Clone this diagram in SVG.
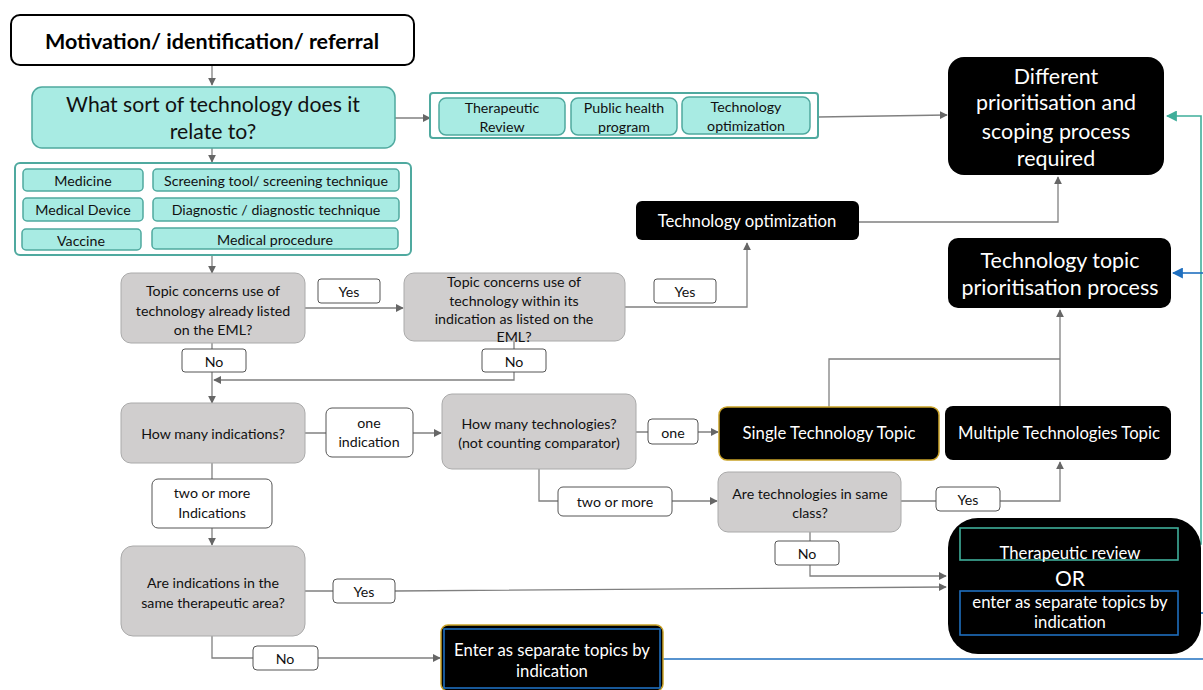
<svg xmlns="http://www.w3.org/2000/svg" width="1203" height="690" viewBox="0 0 1203 690">
<style>
text{font-family:Lato,"Open Sans","Liberation Sans",sans-serif;text-anchor:middle;dominant-baseline:central}
.teal{fill:#a8ebe3;stroke:#4fa99f;stroke-width:1.5}
.grp{fill:#fff;stroke:#4fa99f;stroke-width:2}
.gray{fill:#d0cece;stroke:#aaaaaa;stroke-width:1}
.lbl{fill:#fff;stroke:#555;stroke-width:1}
.blk{fill:#000}
.t13{font-size:14.2px;fill:#111}
.w{fill:#fff}
.w16{font-size:16.7px}
.w21{font-size:21.4px}
.con{fill:none;stroke:#808080;stroke-width:1.3}
</style>
<defs>
<marker id="ag" viewBox="0 0 10 10" refX="9" refY="5" markerWidth="8" markerHeight="8" markerUnits="userSpaceOnUse" orient="auto"><path d="M0,0 L10,5 L0,10 z" fill="#666"/></marker>
<marker id="at" viewBox="0 0 10 10" refX="9" refY="5" markerWidth="11" markerHeight="11" markerUnits="userSpaceOnUse" orient="auto"><path d="M0,0 L10,5 L0,10 z" fill="#3fae9a"/></marker>
<marker id="ab" viewBox="0 0 10 10" refX="9" refY="5" markerWidth="11" markerHeight="11" markerUnits="userSpaceOnUse" orient="auto"><path d="M0,0 L10,5 L0,10 z" fill="#1f6fbf"/></marker>
</defs>

<g id="connectors">
<path class="con" d="M212,65 V85" marker-end="url(#ag)"/>
<path class="con" d="M395,118 H430" marker-end="url(#ag)"/>
<path class="con" d="M818,117 L947,115" marker-end="url(#ag)"/>
<path class="con" d="M212,148 V162" marker-end="url(#ag)"/>
<path class="con" d="M212,255 V273" marker-end="url(#ag)"/>
<path class="con" d="M305,308 H403" marker-end="url(#ag)"/>
<path class="con" d="M625,307 H747 V243" marker-end="url(#ag)"/>
<path class="con" d="M859,222 H1058 V177" marker-end="url(#ag)"/>
<path class="con" d="M212,343 V403" marker-end="url(#ag)"/>
<path class="con" d="M514,341 V380 H214" marker-end="url(#ag)"/>
<path class="con" d="M305,433 H441" marker-end="url(#ag)"/>
<path class="con" d="M636,432 H718" marker-end="url(#ag)"/>
<path class="con" d="M829,407 V359 H1060"/>
<path class="con" d="M1060,406 V310" marker-end="url(#ag)"/>
<path class="con" d="M539,469 V501 H717" marker-end="url(#ag)"/>
<path class="con" d="M901,501 H1060 V462" marker-end="url(#ag)"/>
<path class="con" d="M810,532 V576 H946" marker-end="url(#ag)"/>
<path class="con" d="M212,463 V545" marker-end="url(#ag)"/>
<path class="con" d="M305,591 H395 L946,587" marker-end="url(#ag)"/>
<path class="con" d="M212,636 V658 H440" marker-end="url(#ag)"/>
<path d="M1178,544 H1201 V116 H1167" fill="none" stroke="#3fae9a" stroke-width="1.6" marker-end="url(#at)"/>
<path d="M1178,613 H1203" fill="none" stroke="#1f6fbf" stroke-width="1.6"/>
<path d="M1203,273 H1173" fill="none" stroke="#1f6fbf" stroke-width="1.6" marker-end="url(#ab)"/>
<path d="M663,659 H1203" fill="none" stroke="#1f6fbf" stroke-width="1.6"/>
</g>

<g id="n-motivation">
<rect x="11" y="15" width="403" height="50" rx="9" fill="#fff" stroke="#000" stroke-width="2"/>
<text x="212" y="41" style="font-size:21.5px;font-weight:bold;fill:#000">Motivation/ identification/ referral</text>
</g>

<g id="n-whatsort">
<rect class="teal" x="32" y="87" width="363" height="61" rx="10"/>
<text x="213" y="104" style="font-size:21.2px;fill:#111">What sort of technology does it</text>
<text x="213" y="131" style="font-size:21.2px;fill:#111">relate to?</text>
</g>

<g id="n-othertypes">
<rect class="grp" x="430" y="93" width="388" height="45" rx="3"/>
<rect class="teal" x="439" y="98" width="126" height="37" rx="7"/>
<text class="t13" x="502" y="107">Therapeutic</text>
<text class="t13" x="502" y="126">Review</text>
<rect class="teal" x="571" y="98" width="106" height="37" rx="7"/>
<text class="t13" x="624" y="107">Public health</text>
<text class="t13" x="624" y="126">program</text>
<rect class="teal" x="682" y="97" width="128" height="37" rx="7"/>
<text class="t13" x="746" y="106">Technology</text>
<text class="t13" x="746" y="125">optimization</text>
</g>

<g id="n-techtypes">
<rect class="grp" x="15" y="163" width="396" height="92" rx="5"/>
<rect class="teal" x="23" y="169" width="120" height="22" rx="4"/>
<text class="t13" x="83" y="180">Medicine</text>
<rect class="teal" x="153" y="169" width="246" height="22" rx="4"/>
<text class="t13" x="276" y="180">Screening tool/ screening technique</text>
<rect class="teal" x="23" y="198" width="120" height="23" rx="4"/>
<text class="t13" x="83" y="209">Medical Device</text>
<rect class="teal" x="153" y="198" width="246" height="23" rx="4"/>
<text class="t13" x="276" y="209">Diagnostic / diagnostic technique</text>
<rect class="teal" x="22" y="229" width="119" height="21" rx="4"/>
<text class="t13" x="81" y="240">Vaccine</text>
<rect class="teal" x="152" y="228" width="246" height="21" rx="4"/>
<text class="t13" x="275" y="239">Medical procedure</text>
</g>

<g id="n-different">
<rect class="blk" x="948" y="57" width="216" height="118" rx="16"/>
<text class="w w21" x="1056" y="76">Different</text>
<text class="w w21" x="1056" y="102">prioritisation and</text>
<text class="w w21" x="1056" y="131">scoping process</text>
<text class="w w21" x="1056" y="158">required</text>
</g>

<g id="n-techopt">
<rect class="blk" x="636" y="201" width="223" height="39" rx="6"/>
<text class="w w16" x="747" y="221">Technology optimization</text>
</g>

<g id="n-ttpp">
<rect class="blk" x="948" y="238" width="223" height="70" rx="10"/>
<text class="w w21" x="1060" y="260">Technology topic</text>
<text class="w w21" x="1060" y="287">prioritisation process</text>
</g>

<g id="n-q1">
<rect class="gray" x="121" y="273" width="184" height="70" rx="10"/>
<text class="t13" x="213" y="290">Topic concerns use of</text>
<text class="t13" x="213" y="310">technology already listed</text>
<text class="t13" x="213" y="329">on the EML?</text>
</g>
<g id="l-yes1"><rect class="lbl" x="318" y="279" width="62" height="24" rx="3"/><text class="t13" x="349" y="291">Yes</text></g>
<g id="l-no1"><rect class="lbl" x="182" y="349" width="64" height="23" rx="3"/><text class="t13" x="214" y="361">No</text></g>

<g id="n-q2">
<rect class="gray" x="404" y="273" width="221" height="68" rx="10"/>
<text class="t13" x="514" y="281">Topic concerns use of</text>
<text class="t13" x="514" y="300">technology within its</text>
<text class="t13" x="514" y="318">indication as listed on the</text>
<text class="t13" x="514" y="336">EML?</text>
</g>
<g id="l-yes2"><rect class="lbl" x="654" y="279" width="62" height="24" rx="3"/><text class="t13" x="685" y="291">Yes</text></g>
<g id="l-no2"><rect class="lbl" x="482" y="349" width="64" height="23" rx="3"/><text class="t13" x="514" y="361">No</text></g>

<g id="n-q3">
<rect class="gray" x="121" y="403" width="184" height="60" rx="10"/>
<text class="t13" x="213" y="433">How many indications?</text>
</g>
<g id="l-oneind"><rect class="lbl" x="326" y="408" width="87" height="49" rx="6"/><text class="t13" x="369" y="422">one</text><text class="t13" x="369" y="441">indication</text></g>
<g id="l-twoind"><rect class="lbl" x="152" y="479" width="120" height="49" rx="6"/><text class="t13" x="212" y="492">two or more</text><text class="t13" x="212" y="512">Indications</text></g>

<g id="n-q4">
<rect class="gray" x="442" y="394" width="194" height="75" rx="10"/>
<text class="t13" x="539" y="423">How many technologies?</text>
<text class="t13" x="539" y="442">(not counting comparator)</text>
</g>
<g id="l-one"><rect class="lbl" x="648" y="419" width="50" height="25" rx="4"/><text class="t13" x="673" y="432">one</text></g>
<g id="l-twomore"><rect class="lbl" x="558" y="487" width="114" height="29" rx="5"/><text class="t13" x="615" y="501">two or more</text></g>

<g id="n-single">
<rect class="blk" x="719" y="407" width="220" height="53" rx="8" stroke="#c9a227" stroke-width="1.5"/>
<text class="w w16" x="829" y="433">Single Technology Topic</text>
</g>
<g id="n-multiple">
<rect class="blk" x="945" y="406" width="226" height="54" rx="8"/>
<text class="w w16" x="1059" y="433">Multiple Technologies Topic</text>
</g>

<g id="n-q5">
<rect class="gray" x="718" y="472" width="183" height="60" rx="10"/>
<text class="t13" x="810" y="493">Are technologies in same</text>
<text class="t13" x="810" y="512">class?</text>
</g>
<g id="l-yes3"><rect class="lbl" x="936" y="487" width="64" height="24" rx="4"/><text class="t13" x="968" y="499">Yes</text></g>
<g id="l-no3"><rect class="lbl" x="775" y="541" width="64" height="24" rx="3"/><text class="t13" x="807" y="553">No</text></g>

<g id="n-q6">
<rect class="gray" x="121" y="546" width="184" height="90" rx="12"/>
<text class="t13" x="213" y="582">Are indications in the</text>
<text class="t13" x="213" y="602">same therapeutic area?</text>
</g>
<g id="l-yes4"><rect class="lbl" x="333" y="579" width="62" height="24" rx="4"/><text class="t13" x="364" y="591">Yes</text></g>
<g id="l-no4"><rect class="lbl" x="253" y="646" width="65" height="24" rx="4"/><text class="t13" x="285" y="658">No</text></g>

<g id="n-enter">
<rect class="blk" x="441" y="625" width="222" height="66" rx="7" stroke="#c9a227" stroke-width="1.5"/>
<rect x="444" y="629" width="216" height="59" fill="none" stroke="#1f6fbf" stroke-width="1.6"/>
<text class="w w16" x="552" y="650">Enter as separate topics by</text>
<text class="w w16" x="552" y="671">indication</text>
</g>

<g id="n-review-or">
<rect class="blk" x="948" y="518" width="253" height="136" rx="30"/>
<rect x="960" y="528" width="218" height="32" fill="none" stroke="#3fae9a" stroke-width="1.6"/>
<text class="w w16" x="1070" y="553">Therapeutic review</text>
<text class="w" x="1070" y="577" style="font-size:21px">OR</text>
<rect x="960" y="591" width="218" height="44" fill="none" stroke="#1f6fbf" stroke-width="1.6"/>
<text class="w w16" x="1070" y="602">enter as separate topics by</text>
<text class="w w16" x="1070" y="622">indication</text>
</g>
</svg>
